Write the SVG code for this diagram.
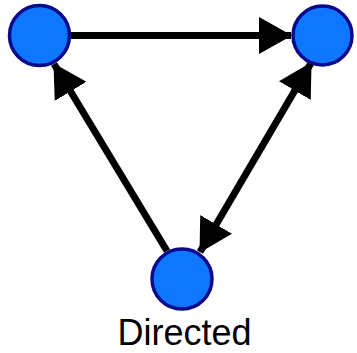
<svg xmlns="http://www.w3.org/2000/svg" width="357" height="353" viewBox="0 0 357 353">
<style>
.node{fill:#0f77ff;stroke:#0a0a8c;stroke-width:3.5}
.edge{stroke:#000;stroke-width:7;fill:none}
.lbl{font-family:"Liberation Sans",Arial,sans-serif;font-size:36px;fill:#000}
</style>
<defs>
<marker id="ah" markerUnits="userSpaceOnUse" markerWidth="33" markerHeight="37" viewBox="0 0 33 37" refX="32" refY="18.5" orient="auto-start-reverse">
<path d="M0,0 L33,18.5 L0,37 Z" fill="#000"/>
</marker>
</defs>
<rect width="357" height="353" fill="#fff"/>
<g id="edges">
<line class="edge" x1="71" y1="35.5" x2="291" y2="35.5" marker-end="url(#ah)"/>
<line class="edge" x1="167" y1="251" x2="54" y2="64" marker-end="url(#ah)"/>
<line class="edge" x1="200" y1="252" x2="311" y2="63" marker-start="url(#ah)" marker-end="url(#ah)"/>
</g>
<g id="n1"><circle class="node" cx="39.5" cy="35.5" r="30"/></g>
<g id="n2"><circle class="node" cx="322.5" cy="35.5" r="29.5"/></g>
<g id="n3"><circle class="node" cx="182" cy="279" r="30"/></g>
<g id="label"><text class="lbl" x="184.5" y="345" text-anchor="middle">Directed</text></g>
</svg>
